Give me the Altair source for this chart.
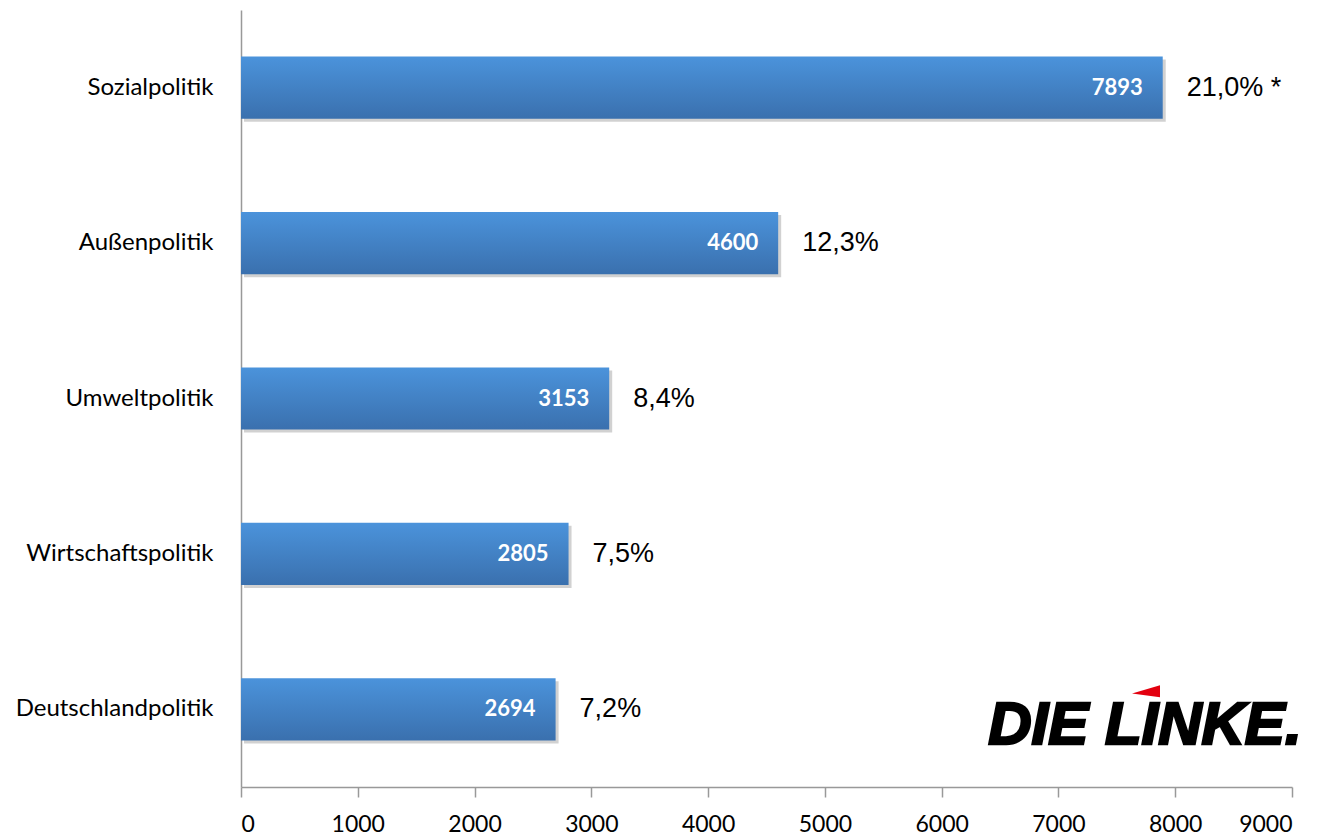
import altair as alt
import pandas as pd

categories = ["Sozialpolitik", "Außenpolitik", "Umweltpolitik", "Wirtschaftspolitik", "Deutschlandpolitik"]
values = [7893, 4600, 3153, 2805, 2694]
percent_labels = ["21,0% *", "12,3%", "8,4%", "7,5%", "7,2%"]
x_ticks = [0, 1000, 2000, 3000, 4000, 5000, 6000, 7000, 8000, 9000]

logo_text = ["DIE LINKE."]
logo_x = [7740]
logo_cat = ["Deutschlandpolitik"]
flag_x = [7750]

df = pd.DataFrame({"cat": categories, "val": values, "pct": percent_labels})
logo_df = pd.DataFrame({"txt": logo_text, "x": logo_x, "cat": logo_cat})
flag_df = pd.DataFrame({"x": flag_x, "cat": logo_cat})

yscale = alt.Scale(domain=categories, paddingInner=0.6, paddingOuter=0.3)
xscale = alt.Scale(domain=[0, 9000], nice=False)

x_enc = alt.X("val:Q", scale=xscale,
              axis=alt.Axis(values=x_ticks, format="d", title=None, grid=False, domainColor="#999999",
                            tickColor="#999999", tickSize=10, labelFontSize=23, labelColor="#000000",
                            labelFont="Lato", labelPadding=16, domainWidth=1.5, tickWidth=1.5))
y_enc = alt.Y("cat:N", scale=yscale, sort=categories,
              axis=alt.Axis(title=None, ticks=False, domainColor="#999999", domainWidth=1.5,
                            labelFontSize=24, labelColor="#000000", labelFont="Lato", labelPadding=28,
                            labelLimit=400))

base = alt.Chart(df)

shadow = base.mark_bar(color="#000000", opacity=0.18, xOffset=3, yOffset=3).encode(
    x=alt.X("val:Q", scale=xscale), y=alt.Y("cat:N", scale=yscale, sort=categories))

bars = base.mark_bar(
    color=alt.Gradient(gradient="linear", x1=0, x2=0, y1=0, y2=1,
                       stops=[alt.GradientStop(color="#4b93db", offset=0),
                              alt.GradientStop(color="#3a70ae", offset=1)])
).encode(x=x_enc, y=y_enc)

inner = base.mark_text(align="right", baseline="middle", dx=-20, fontSize=22, fontWeight="bold",
                       font="Lato", color="white").encode(
    x=alt.X("val:Q", scale=xscale), y=alt.Y("cat:N", scale=yscale, sort=categories), text="val:Q")

outer = base.mark_text(align="left", baseline="middle", dx=24, fontSize=27,
                       font="Liberation Sans", color="#000000").encode(
    x=alt.X("val:Q", scale=xscale), y=alt.Y("cat:N", scale=yscale, sort=categories), text="pct:N")

logo = alt.Chart(logo_df).mark_text(align="center", baseline="middle", dy=17, fontSize=60,
                                    fontWeight=900, fontStyle="italic",
                                    font="Liberation Sans", stroke="#000000", strokeWidth=2.5,
                                    color="#000000").encode(
    x=alt.X("x:Q", scale=xscale), y=alt.Y("cat:N", scale=yscale, sort=categories), text="txt:N")

flag = alt.Chart(flag_df).mark_point(shape="M -1 0.15 L 1 -0.43 L 1 0.43 Z", filled=True, opacity=1,
                                     color="#e3000f", size=784, yOffset=-18).encode(
    x=alt.X("x:Q", scale=xscale), y=alt.Y("cat:N", scale=yscale, sort=categories))

chart = alt.layer(shadow, bars, inner, outer, logo, flag).properties(
    width=1051, height=777, padding={"top": 2, "left": 7, "right": 5, "bottom": 5}
).configure_view(stroke=None)

chart.save("out.html", embed_options={"renderer": "svg", "actions": False})
